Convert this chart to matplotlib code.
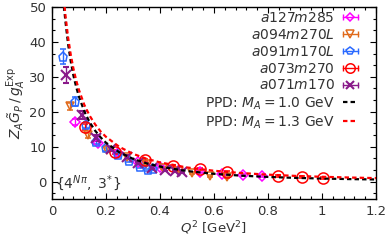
import numpy as np
import matplotlib
matplotlib.use("Agg")
import matplotlib.pyplot as plt
from matplotlib.lines import Line2D
from matplotlib.legend_handler import HandlerLine2D, HandlerTuple
from matplotlib.ticker import MultipleLocator, AutoMinorLocator, FuncFormatter

plt.rcParams['mathtext.fontset'] = 'dejavusans'
plt.rcParams['font.family'] = ['DejaVu Sans']

# ---- data ----
labels = ["$a127m285$", "$a094m270L$", "$a091m170L$", "$a073m270$", "$a071m170$"]

x_a127 = [0.085, 0.17, 0.245, 0.32, 0.40, 0.47, 0.55, 0.63, 0.706, 0.777]
y_a127 = [17.1, 11.0, 8.1, 5.6, 4.1, 3.2, 2.6, 2.2, 1.86, 1.58]
e_a127 = [0.9, 0.6, 0.4, 0.3, 0.3, 0.2, 0.2, 0.2, 0.2, 0.2]

x_a094 = [0.067, 0.135, 0.205, 0.28, 0.35, 0.41, 0.47, 0.52, 0.585, 0.647]
y_a094 = [21.6, 13.3, 9.0, 6.9, 5.0, 3.8, 3.1, 2.4, 1.7, 1.4]
e_a094 = [1.0, 0.7, 0.5, 0.4, 0.3, 0.3, 0.3, 0.3, 0.3, 0.3]

x_a091 = [0.042, 0.085, 0.128, 0.165, 0.20, 0.245, 0.285, 0.326, 0.356, 0.375]
y_a091 = [35.8, 22.9, 16.2, 11.4, 9.5, 7.6, 6.0, 4.2, 3.3, 3.6]
e_a091 = [2.1, 1.3, 0.9, 0.7, 0.6, 0.5, 0.4, 0.4, 0.4, 0.4]

x_a073 = [0.122, 0.233, 0.344, 0.45, 0.55, 0.65, 0.838, 0.925, 1.005]
y_a073 = [15.7, 8.5, 6.2, 4.4, 3.5, 2.6, 1.7, 1.4, 1.1]
e_a073 = [0.8, 0.5, 0.4, 0.3, 0.3, 0.3, 0.3, 0.3, 0.3]

x_a071 = [0.054, 0.11, 0.165, 0.22, 0.28, 0.32, 0.37, 0.42, 0.455, 0.48]
y_a071 = [30.5, 19.0, 12.4, 9.3, 7.0, 5.3, 4.0, 3.4, 3.0, 2.8]
e_a071 = [2.3, 1.2, 0.8, 0.6, 0.5, 0.4, 0.4, 0.4, 0.4, 0.4]

q2_curve = [0.03, 0.035, 0.04, 0.045, 0.05, 0.06, 0.07, 0.08, 0.09, 0.10, 0.12, 0.14,
            0.16, 0.18, 0.20, 0.25, 0.30, 0.35, 0.40, 0.50, 0.60, 0.70, 0.80, 0.90,
            1.00, 1.10, 1.20]
ppd_ma10 = [67.0, 60.3, 54.7, 50.0, 46.0, 39.4, 34.4, 30.3, 27.1, 24.4, 20.1, 17.0,
            14.6, 12.7, 11.15, 8.37, 6.53, 5.24, 4.29, 3.02, 2.22, 1.70, 1.33, 1.06,
            0.87, 0.71, 0.60]
ppd_ma13 = [68.6, 62.0, 56.5, 51.8, 47.8, 41.3, 36.3, 32.3, 29.0, 26.3, 22.0, 18.85,
            16.4, 14.4, 12.84, 9.93, 7.96, 6.55, 5.50, 4.04, 3.10, 2.45, 1.98, 1.63,
            1.37, 1.16, 0.99]
curve_labels = ["PPD: $M_A = 1.0$ GeV", "PPD: $M_A = 1.3$ GeV"]

# ---- style ----
colors = ['#ff00ff', '#e06a1a', '#2a6aff', '#ff0000', '#8a1a8a']
markers = ['D', 'v', 'p', 'o', 'x']
msizes = [5, 6, 6.5, 8, 7]

fig = plt.figure(figsize=(3.9, 2.43), dpi=100)
ax = fig.add_axes([0.133, 0.181, 0.831, 0.790])

series = [(x_a127, y_a127, e_a127), (x_a094, y_a094, e_a094), (x_a091, y_a091, e_a091),
          (x_a073, y_a073, e_a073), (x_a071, y_a071, e_a071)]

for (xs, ys, es), c, m, ms in zip(series, colors, markers, msizes):
    ax.errorbar(xs, ys, yerr=es, fmt=m, color=c, mfc='none', mec=c, ms=ms,
                mew=1.1 if m != 'x' else 1.5, elinewidth=1.0, capsize=2.0, capthick=1.0,
                zorder=3)

ax.plot(q2_curve, ppd_ma10, color='black', lw=1.6, dashes=(2, 1.4), zorder=4)
ax.plot(q2_curve, ppd_ma13, color='red', lw=1.6, dashes=(2, 1.4), zorder=4)

ax.set_xlim(0, 1.2)
ax.set_ylim(-5, 50)
ax.xaxis.set_major_locator(MultipleLocator(0.2))
ax.xaxis.set_minor_locator(AutoMinorLocator(5))
ax.yaxis.set_major_locator(MultipleLocator(10))
ax.yaxis.set_minor_locator(AutoMinorLocator(3))
ax.xaxis.set_major_formatter(FuncFormatter(lambda v, p: f"{v:g}"))
ax.tick_params(which='both', direction='in', top=True, right=True, labelsize=9.5,
               color='black', labelcolor='#333333')
ax.tick_params(which='major', length=4.5, width=0.8, pad=4)
ax.tick_params(which='minor', length=2.5, width=0.8)
for s in ax.spines.values():
    s.set_linewidth(1.0)

ax.set_xlabel("$Q^2$ [GeV$^2$]", fontsize=9.5, color='#333333', labelpad=1)
ax.set_ylabel(r"$Z_A\tilde{G}_P\,/\,g_A^{\rm Exp}$", fontsize=10, color='#333333', labelpad=1)

ax.text(0.012, -0.3, r"$\{4^{N\pi},\ 3^{*}\}$", fontsize=10, color='#333333',
        transform=ax.transData, va='center', ha='left')

# ---- legend (gnuplot-like: text then marker with horizontal error bar) ----
handles = []
hmap = {}
for c, m, ms, lab in zip(colors, markers, msizes, labels):
    main = Line2D([], [], color=c, lw=1.0, marker=m, mfc='none', mec=c, ms=ms * 0.85,
                  mew=1.1 if m != 'x' else 1.5)
    caps = Line2D([], [], color=c, ls='none', marker='|', ms=5, mew=1.0)
    hmap[caps] = HandlerLine2D(numpoints=2, marker_pad=0.0)
    handles.append((main, caps))
handles.append(Line2D([], [], color='black', lw=1.6, dashes=(2, 1.4)))
handles.append(Line2D([], [], color='red', lw=1.6, dashes=(2, 1.4)))
hmap[tuple] = HandlerTuple(ndivide=1)

leg = ax.legend(handles, labels + curve_labels, loc='upper right', frameon=False,
                markerfirst=False, fontsize=10, handlelength=1.1, handletextpad=0.6,
                labelspacing=0.2, borderaxespad=0.0, borderpad=0.0, numpoints=1,
                bbox_to_anchor=(0.945, 0.978), handler_map=hmap)
for t in leg.get_texts():
    t.set_color('#333333')

fig.savefig("out.png", dpi=100)
